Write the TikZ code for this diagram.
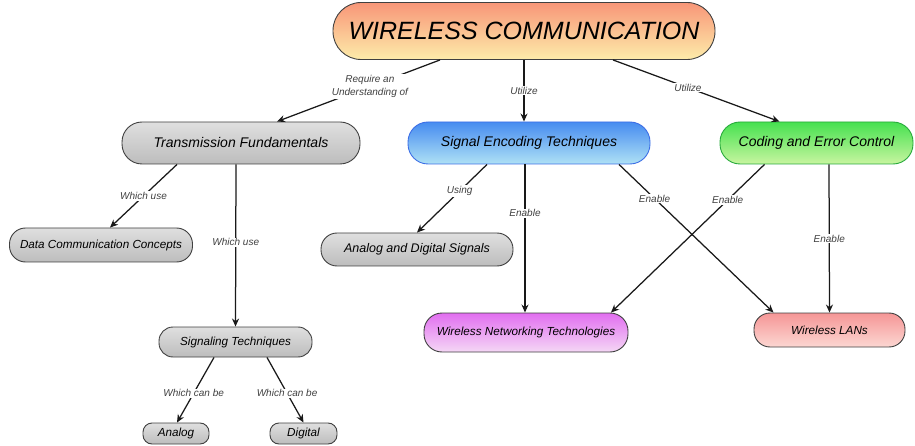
\documentclass[tikz,border=0pt]{standalone}
\usepackage{fontspec}
\setmainfont{Liberation Sans}
\usetikzlibrary{arrows.meta}

\definecolor{orangetop}{RGB}{248,150,120}
\definecolor{orangebot}{RGB}{253,236,170}
\definecolor{bluetop}{RGB}{70,140,240}
\definecolor{bluebot}{RGB}{175,225,245}
\definecolor{blueline}{RGB}{60,110,230}
\definecolor{greentop}{RGB}{70,225,80}
\definecolor{greenbot}{RGB}{200,245,160}
\definecolor{greenline}{RGB}{40,170,60}
\definecolor{magtop}{RGB}{225,110,240}
\definecolor{magbot}{RGB}{245,215,245}
\definecolor{pinktop}{RGB}{245,150,150}
\definecolor{pinkbot}{RGB}{252,215,210}

\tikzset{
  concept/.style={draw=black!75, line width=0.9pt, inner sep=0pt},
  bigtext/.style={font=\fontsize{14}{16}\selectfont\itshape},
  smalltext/.style={font=\fontsize{11.7}{14}\selectfont\itshape},
  greyfill/.style={top color=gray!25, bottom color=gray!52},
  link/.style={draw=black!90, line width=1.25pt, -{Stealth[length=8pt,width=7pt]}},
  lbl/.style={fill=white, inner sep=1pt, text=black!75, align=center,
    font=\fontsize{10}{13}\selectfont\itshape}
}

\begin{document}
\begin{tikzpicture}[x=1pt,y=-1pt]
  \useasboundingbox (0,0) rectangle (915,446);

  % Concetti
  \node[concept, top color=orangetop, bottom color=orangebot, minimum width=382pt,
    minimum height=57pt, rounded corners=28pt, font=\fontsize{25}{28}\selectfont\itshape]
    (wc) at (524,31) {WIRELESS COMMUNICATION};

  \node[concept, greyfill, bigtext, minimum width=238pt, minimum height=42pt,
    rounded corners=20pt] (tf) at (241,143) {Transmission Fundamentals};
  \node[concept, draw=blueline, top color=bluetop, bottom color=bluebot, bigtext,
    minimum width=242pt, minimum height=42pt, rounded corners=20pt]
    (set) at (529,143) {Signal Encoding Techniques};
  \node[concept, draw=greenline, top color=greentop, bottom color=greenbot, bigtext,
    minimum width=193pt, minimum height=42pt, rounded corners=20pt]
    (cec) at (816.5,143) {Coding and Error Control};

  \node[concept, greyfill, smalltext, minimum width=183pt, minimum height=34pt,
    rounded corners=16pt] (dcc) at (101,245) {Data Communication Concepts};
  \node[concept, greyfill, font=\fontsize{12.5}{14}\selectfont\itshape, minimum width=192pt,
    minimum height=33pt, rounded corners=16pt] (ads) at (417,249.5) {Analog and Digital Signals};

  \node[concept, top color=magtop, bottom color=magbot, smalltext, minimum width=204pt,
    minimum height=39pt, rounded corners=18pt] (wnt) at (526,332.5) {Wireless Networking Technologies};
  \node[concept, top color=pinktop, bottom color=pinkbot, smalltext, minimum width=151pt,
    minimum height=34pt, rounded corners=16pt] (wlan) at (829.5,330) {Wireless LANs};

  \node[concept, greyfill, smalltext, minimum width=153pt, minimum height=30pt,
    rounded corners=14pt] (st) at (235.5,342) {Signaling Techniques};
  \node[concept, greyfill, smalltext, minimum width=66pt, minimum height=21pt,
    rounded corners=9pt] (analog) at (176,433.5) {Analog};
  \node[concept, greyfill, smalltext, minimum width=67pt, minimum height=21pt,
    rounded corners=9pt] (digital) at (303.5,433.5) {Digital};

  % Collegamenti
  \draw[link] ([xshift=-84]wc.south) -- ([xshift=36]tf.north)
    node[lbl, pos=0.43] {Require an\\Understanding of};
  \draw[link] (wc.south) -- ([xshift=-5]set.north) node[lbl, pos=0.5] {Utilize};
  \draw[link] ([xshift=89]wc.south) -- ([xshift=-37]cec.north) node[lbl, pos=0.45] {Utilize};

  \draw[link] ([xshift=-64]tf.south) -- ([xshift=9]dcc.north) node[lbl, pos=0.5] {Which use};
  \draw[link] ([xshift=-5]tf.south) -- (st.north) node[lbl, pos=0.48] {Which use};

  \draw[link] ([xshift=-42]set.south) -- (ads.north) node[lbl, pos=0.39] {Using};
  \draw[link] ([xshift=-4]set.south) -- ([xshift=-1]wnt.north) node[lbl, pos=0.33] {Enable};
  \draw[link] ([xshift=90]set.south) -- ([xshift=-56]wlan.north) node[lbl, pos=0.23] {Enable};

  \draw[link] ([xshift=-52]cec.south) -- ([xshift=85]wnt.north) node[lbl, pos=0.24] {Enable};
  \draw[link] ([xshift=12.5]cec.south) -- (wlan.north) node[lbl, pos=0.5] {Enable};

  \draw[link] ([xshift=-21.5]st.south) -- ([xshift=1]analog.north) node[lbl, pos=0.55] {Which can be};
  \draw[link] ([xshift=31.5]st.south) -- (digital.north) node[lbl, pos=0.55] {Which can be};
\end{tikzpicture}
\end{document}
